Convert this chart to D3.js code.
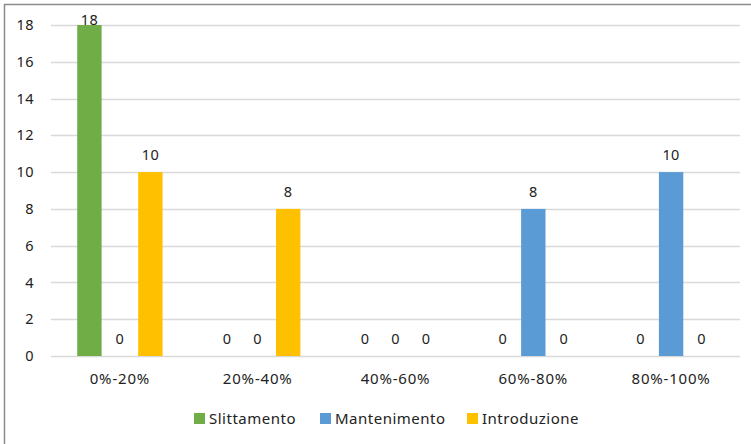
<!DOCTYPE html>
<html>
<head>
<meta charset="utf-8">
<script src="https://cdn.jsdelivr.net/npm/d3@7"></script>
<style>
  html, body { margin: 0; padding: 0; background: #fff; }
  svg { display: block; font-family: "Noto Sans", "Open Sans", sans-serif; }
</style>
</head>
<body>
<svg id="chart" width="751" height="444"></svg>
<script>
const categories = ["0%-20%", "20%-40%", "40%-60%", "60%-80%", "80%-100%"];
const seriesNames = ["Slittamento", "Mantenimento", "Introduzione"];
const slittamento = [18, 0, 0, 0, 0];
const mantenimento = [0, 0, 0, 8, 10];
const introduzione = [10, 8, 0, 0, 0];
const yTicks = [0, 2, 4, 6, 8, 10, 12, 14, 16, 18];
const colors = ["#70AD47", "#5B9BD5", "#FFC000"];

const values = [slittamento, mantenimento, introduzione];
const rows = categories.map((c, i) => ({
  category: c,
  items: seriesNames.map((s, j) => ({ series: s, value: values[j][i], color: colors[j] }))
}));

const svg = d3.select("#chart");
const W = 751, H = 444;
const plot = { left: 51, right: 740, top: 25, bottom: 356 };

// outer chart border (only top and left edges fall inside the canvas)
svg.append("rect")
  .attr("x", 4.5).attr("y", 4.5)
  .attr("width", W + 20).attr("height", H + 20)
  .attr("fill", "none").attr("stroke", "#8c8c8c").attr("stroke-width", 1.5);

const x0 = d3.scaleBand().domain(categories).range([plot.left, plot.right]).padding(0);
const x1 = d3.scaleBand().domain(seriesNames).range([0, x0.bandwidth()])
  .paddingInner(0.2).paddingOuter(0.86);
const y = d3.scaleLinear().domain([0, 18]).range([plot.bottom, plot.top]);

// gridlines
svg.append("g")
  .selectAll("line")
  .data(yTicks)
  .join("line")
  .attr("x1", plot.left).attr("x2", plot.right)
  .attr("y1", d => Math.round(y(d)) + 0.5).attr("y2", d => Math.round(y(d)) + 0.5)
  .attr("stroke", "#d9d9d9").attr("stroke-width", 1.3);

// y axis labels
const yAxis = d3.axisLeft(y).tickValues(yTicks).tickSize(0).tickPadding(0);
const gy = svg.append("g").attr("transform", `translate(34,0)`).call(yAxis);
gy.select(".domain").remove();
gy.selectAll("text").attr("font-size", 14.5).attr("letter-spacing", 0.4)
  .attr("fill", "#222").attr("font-family", "Noto Sans, sans-serif");

// x axis labels
const xAxis = d3.axisBottom(x0).tickSize(0).tickPadding(0);
const gx = svg.append("g").attr("transform", `translate(0,${plot.bottom + 17})`).call(xAxis);
gx.select(".domain").remove();
gx.selectAll("text").attr("font-size", 15).attr("letter-spacing", 0.8)
  .attr("fill", "#222").attr("font-family", "Noto Sans, sans-serif");

// bars
const groups = svg.append("g")
  .selectAll("g")
  .data(rows)
  .join("g")
  .attr("transform", d => `translate(${x0(d.category)},0)`);

groups.selectAll("rect")
  .data(d => d.items)
  .join("rect")
  .attr("x", d => x1(d.series))
  .attr("y", d => y(d.value))
  .attr("width", x1.bandwidth())
  .attr("height", d => y(0) - y(d.value))
  .attr("fill", d => d.color);

// value labels
groups.selectAll("text")
  .data(d => d.items)
  .join("text")
  .attr("x", d => x1(d.series) + x1.bandwidth() / 2)
  .attr("y", d => Math.max(y(d.value) - 12, 25))
  .attr("text-anchor", "middle")
  .attr("font-size", 14.5)
  .attr("letter-spacing", 0.4)
  .attr("fill", "#222")
  .text(d => d.value);

// legend
const legendItems = [
  { name: seriesNames[0], color: colors[0], x: 194 },
  { name: seriesNames[1], color: colors[1], x: 320 },
  { name: seriesNames[2], color: colors[2], x: 467 }
];
const lg = svg.append("g").selectAll("g").data(legendItems).join("g")
  .attr("transform", d => `translate(${d.x},${413})`);
lg.append("rect").attr("width", 11).attr("height", 11).attr("fill", d => d.color);
lg.append("text").attr("x", 15).attr("y", 11).attr("font-size", 15).attr("letter-spacing", 0.5)
  .attr("fill", "#222").text(d => d.name);
</script>
</body>
</html>
